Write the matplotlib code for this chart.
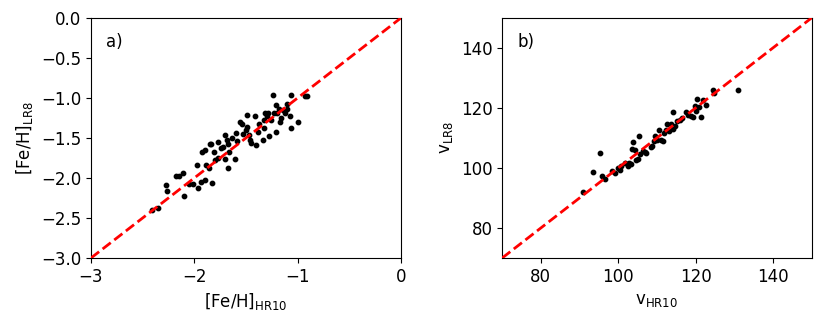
import numpy as np
import matplotlib
matplotlib.use("Agg")
import matplotlib.pyplot as plt

# panel a: [Fe/H] HR10 vs LR8
feh_hr10 = [-2.41, -2.35, -2.27, -2.26, -2.18, -2.15, -2.11, -2.10, -2.05, -2.01,
            -1.97, -1.96, -1.94, -1.93, -1.90, -1.90, -1.89, -1.86, -1.85, -1.84,
            -1.83, -1.81, -1.80, -1.77, -1.77, -1.74, -1.72, -1.70, -1.70, -1.68,
            -1.67, -1.67, -1.66, -1.64, -1.61, -1.60, -1.59, -1.56, -1.54, -1.53,
            -1.50, -1.49, -1.49, -1.47, -1.46, -1.45, -1.41, -1.40, -1.38, -1.37,
            -1.34, -1.33, -1.32, -1.30, -1.29, -1.33, -1.28, -1.26, -1.24, -1.23,
            -1.21, -1.21, -1.20, -1.18, -1.17, -1.16, -1.14, -1.12, -1.10, -1.10,
            -1.07, -1.06, -1.06, -1.00, -0.91, -0.93]
feh_lr8 = [-2.40, -2.37, -2.09, -2.16, -1.98, -1.98, -1.94, -2.22, -2.07, -2.07,
           -1.84, -2.12, -2.05, -1.67, -2.03, -1.65, -1.84, -1.88, -1.58, -1.57,
           -2.06, -1.67, -1.77, -1.55, -1.75, -1.63, -1.61, -1.46, -1.76, -1.53,
           -1.88, -1.57, -1.67, -1.50, -1.76, -1.44, -1.54, -1.30, -1.32, -1.45,
           -1.40, -1.36, -1.21, -1.46, -1.53, -1.56, -1.23, -1.59, -1.43, -1.32,
           -1.52, -1.27, -1.19, -1.23, -1.19, -1.38, -1.48, -1.27, -0.96, -1.19,
           -1.09, -1.43, -1.19, -1.14, -1.30, -1.25, -1.15, -1.19, -1.07, -1.14,
           -1.22, -0.96, -1.37, -1.30, -0.98, -0.97]

# panel b: velocities HR10 vs LR8
v_hr10 = [90.9, 93.4, 95.4, 95.9, 96.7, 98.4, 99.3, 100.0, 100.4, 100.7,
          101.7, 102.6, 102.8, 103.4, 103.9, 103.6, 104.3, 104.6, 105.2, 105.4,
          105.6, 106.3, 106.9, 107.3, 108.4, 108.8, 109.3, 109.6, 110.1, 110.6,
          111.0, 111.5, 111.9, 112.3, 112.7, 113.2, 113.6, 114.1, 114.2, 114.7,
          115.3, 115.9, 116.4, 117.5, 118.1, 118.7, 119.4, 119.8, 120.1, 120.4,
          120.8, 121.3, 122.0, 122.7, 124.6, 124.7, 131.0]
v_lr8 = [91.9, 98.7, 104.9, 97.2, 96.4, 98.9, 98.3, 100.0, 99.4, 100.6,
         101.7, 100.6, 101.7, 101.4, 108.7, 106.3, 106.1, 102.8, 103.0, 110.6,
         104.8, 105.6, 105.2, 105.0, 107.0, 107.4, 108.9, 110.6, 109.2, 112.6,
         109.2, 109.1, 111.7, 112.8, 114.8, 112.2, 114.8, 118.7, 113.0, 113.9,
         115.6, 116.1, 116.7, 118.7, 117.8, 117.4, 117.0, 120.8, 119.1, 123.0,
         120.3, 117.0, 122.8, 121.0, 125.9, 125.0, 126.1]

plt.rcParams["font.size"] = 12

fig = plt.figure(figsize=(8.3, 3.24), dpi=100)
ax1 = fig.add_axes([0.1096, 0.2037, 0.3735, 0.741])
ax2 = fig.add_axes([0.605, 0.2037, 0.3728, 0.741])

ax1.scatter(feh_hr10, feh_lr8, s=10, color="black", zorder=2)
ax1.plot([-3, 0], [-3, 0], color="red", linestyle="--", linewidth=2, zorder=3)
ax1.set_xlim(-3, 0)
ax1.set_ylim(-3, 0)
ax1.set_xticks([-3, -2, -1, 0])
ax1.set_yticks([-3.0, -2.5, -2.0, -1.5, -1.0, -0.5, 0.0])
ax1.set_xlabel(r"[Fe/H]$_{\mathrm{HR10}}$")
ax1.set_ylabel(r"[Fe/H]$_{\mathrm{LR8}}$")
ax1.text(0.05, 0.9, "a)", transform=ax1.transAxes, va="center")

ax2.scatter(v_hr10, v_lr8, s=10, color="black", zorder=2)
ax2.plot([70, 150], [70, 150], color="red", linestyle="--", linewidth=2, zorder=3)
ax2.set_xlim(70, 150)
ax2.set_ylim(70, 150)
ax2.set_xticks([80, 100, 120, 140])
ax2.set_yticks([80, 100, 120, 140])
ax2.set_xlabel(r"v$_{\mathrm{HR10}}$")
ax2.set_ylabel(r"v$_{\mathrm{LR8}}$")
ax2.text(0.05, 0.9, "b)", transform=ax2.transAxes, va="center")

fig.savefig("out.png", dpi=100)
